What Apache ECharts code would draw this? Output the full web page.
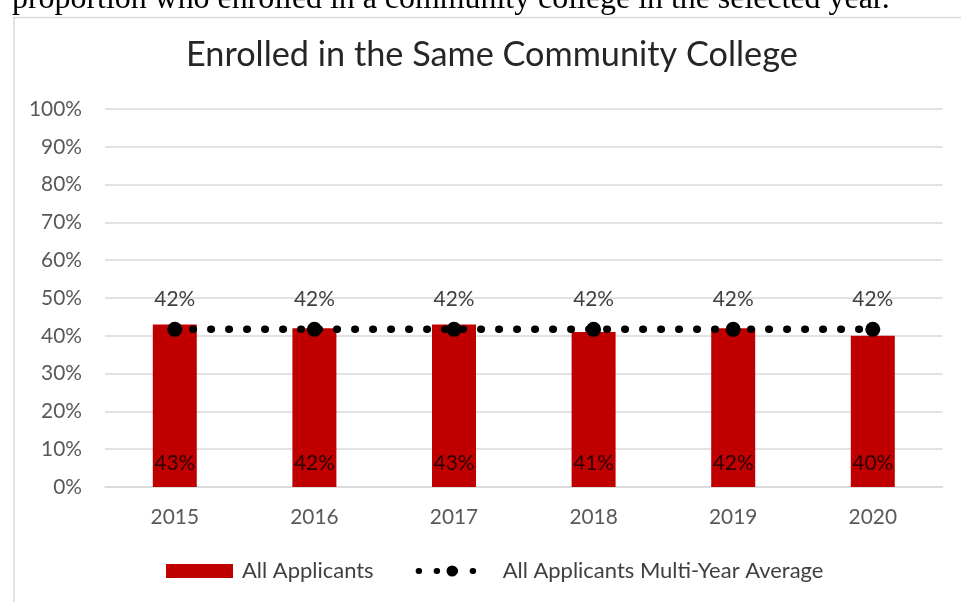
<!DOCTYPE html>
<html>
<head>
<meta charset="utf-8">
<script src="https://cdn.jsdelivr.net/npm/echarts@6/dist/echarts.min.js"></script>
<style>
html,body{margin:0;padding:0;background:#fff;}
#chart{width:961px;height:602px;}
</style>
</head>
<body>
<div id="chart"></div>
<script>
// ---- data ----
const titleText = 'Enrolled in the Same Community College';
const captionText = 'proportion who enrolled in a community college in the selected year.';
const years = ['2015', '2016', '2017', '2018', '2019', '2020'];
const allApplicants = [43, 42, 43, 41, 42, 40];
const multiYearAverage = [41.7, 41.7, 41.7, 41.7, 41.7, 41.7];
const seriesNames = ['All Applicants', 'All Applicants Multi-Year Average'];

// ---- font fitting helper ----
const mctx = document.createElement('canvas').getContext('2d');
function fitSize(text, family, target) {
  mctx.font = '100px ' + family;
  return 100 * target / mctx.measureText(text).width;
}
const SANS = 'Lato';
const titleSize = fitSize(titleText, SANS, 612);
const axisSize = fitSize('100%', SANS, 53);
const legendSize = fitSize(seriesNames[1], SANS, 321);
const captionSize = fitSize(captionText, 'Liberation Serif', 878);

const chart = echarts.init(document.getElementById('chart'), null, {renderer: 'canvas'});
chart.setOption({
  backgroundColor: '#ffffff',
  animation: false,
  graphic: [
    {type: 'rect', left: 11.5, top: 15, shape: {x: 0, y: 0, width: 1100, height: 700},
     style: {fill: 'none', stroke: '#d9d9d9', lineWidth: 1.5}, silent: true, z: -1},
    {type: 'text', x: 12, y: 10 - captionSize * 0.33,
     style: {text: captionText, font: captionSize + 'px "Liberation Serif"', fill: '#000', verticalAlign: 'middle'}}
  ],
  title: {
    text: titleText,
    left: 186,
    top: 38,
    padding: 0,
    textStyle: {fontFamily: SANS, fontSize: titleSize, fontWeight: 'normal', color: '#262626'}
  },
  legend: {
    left: 166,
    top: 560,
    padding: 0,
    itemWidth: 67,
    itemHeight: 14,
    itemGap: 42,
    textStyle: {fontFamily: SANS, fontSize: legendSize, color: '#404040'},
    lineStyle: {width: 6},
    data: [
      {name: seriesNames[0], icon: 'rect', textStyle: {padding: [0, 0, 0, 4]}},
      {name: seriesNames[1], textStyle: {padding: [0, 0, 0, 12]}}
    ]
  },
  grid: {left: 105, right: 18.4, top: 109, bottom: 115, containLabel: false},
  xAxis: {
    type: 'category',
    data: years,
    axisLine: {show: true, lineStyle: {color: '#d9d9d9', width: 1.5}},
    axisTick: {show: false},
    axisLabel: {fontFamily: SANS, fontSize: axisSize, color: '#595959', margin: 20}
  },
  yAxis: {
    type: 'value',
    min: 0, max: 100, interval: 10,
    axisLine: {show: false},
    axisTick: {show: false},
    splitLine: {lineStyle: {color: '#d9d9d9', width: 1.5}},
    axisLabel: {fontFamily: SANS, fontSize: axisSize, color: '#595959', margin: 23, formatter: '{value}%'}
  },
  series: [
    {
      name: seriesNames[0],
      type: 'bar',
      data: allApplicants,
      barWidth: 44,
      itemStyle: {color: '#c00000'},
      label: {show: true, position: 'insideBottom', distance: 13, formatter: p => p.value + '%',
              fontFamily: SANS, fontSize: axisSize, color: '#2a0000'}
    },
    {
      name: seriesNames[1],
      type: 'line',
      data: multiYearAverage,
      symbol: 'circle',
      symbolSize: 15,
      itemStyle: {color: '#000000'},
      lineStyle: {color: '#000000', width: 7.5, type: [0.5, 17.5], cap: 'round'},
      label: {show: true, position: 'top', distance: 12, formatter: p => Math.round(p.value) + '%',
              fontFamily: SANS, fontSize: axisSize, color: '#404040'},
      z: 3
    }
  ]
});
</script>
</body>
</html>
